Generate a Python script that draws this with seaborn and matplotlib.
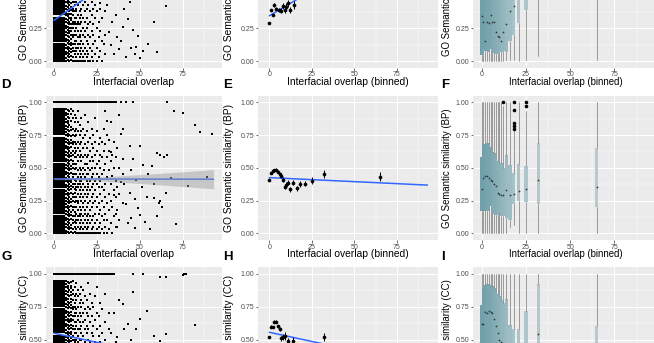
import matplotlib
matplotlib.use("Agg")
import matplotlib.pyplot as plt
import numpy as np
import pandas as pd
import seaborn as sns
from matplotlib.colors import to_rgb
from matplotlib.ticker import FixedLocator

# ---------------------------------------------------------------- data
ONTOLOGIES = ["MF", "BP", "CC"]
PANEL_LETTERS = [["A", "B", "C"], ["D", "E", "F"], ["G", "H", "I"]]

# similarity levels occupied in the most crowded low-overlap columns
LEVELS = [0.00, 0.01, 0.02, 0.035, 0.05, 0.06, 0.075, 0.09, 0.10, 0.115,
          0.13, 0.155, 0.17, 0.18, 0.195, 0.21, 0.22, 0.235, 0.25, 0.26,
          0.275, 0.29, 0.30, 0.315, 0.33, 0.355, 0.37, 0.38, 0.395, 0.41,
          0.42, 0.435, 0.45, 0.46, 0.475, 0.49, 0.50, 0.515, 0.53, 0.555,
          0.57, 0.58, 0.595, 0.61, 0.62, 0.635, 0.65, 0.66, 0.675, 0.69,
          0.70, 0.715, 0.73, 0.755, 0.77, 0.78, 0.795, 0.81, 0.82, 0.835,
          0.85, 0.86, 0.875, 0.89, 0.90, 0.915, 0.93, 0.95]

# ---- MF raw pairs
MF_DENSE_X = [0, 1, 2, 3, 4, 5, 6]
MF_COLS = {
    7: "0 2 5 7 10 12 15 17 20 22 25 27 30 32 35 37 40 42 45 47",
    8: "1 4 6 9 11 14 16 19 21 24 26 29 31 34 36 39 41 44 46",
    9: "0 3 5 8 10 13 15 18 21 23 25 28 30 33 36 38 40 43 45 48",
    10: "1 4 7 9 12 14 17 20 23 25 28 31 33 36 39 41 44 47",
    11: "0 3 8 10 13 18 20 25 28 30 35 38 40 45 48",
    12: "0 5 8 13 15 20 23 28 30 33 38 43 45",
    13: "0 3 8 10 15 20 25 28 33 38 40 45",
    14: "0 5 10 13 18 23 28 30 35 43 48",
    15: "0 3 8 13 18 20 28 33 38 45",
    16: "0 5 10 15 23 30 35 40 48",
    17: "0 3 8 13 20 25 33 43",
    18: "0 5 10 18 23 30 38 45",
    19: "3 8 15 25 33 40",
    20: "0 5 13 20 28 43",
    21: "0 10 18 30 38",
    22: "3 8 23 35 45",
    23: "0 13 20 28 40",
    24: "5 15 33 43",
    25: "0 10 25 38",
    26: "3 18 30",
    27: "8 23 40 44",
    28: "0 15 33",
    29: "13",
    30: "5 20 38",
}
MF_TOP_X = []
MF_SPARSE_X = [31, 32, 33, 34, 35, 36, 37, 38, 39, 40, 41, 42, 43, 44, 45, 46,
               47, 48, 49, 50, 52, 55, 58, 60, 65]
MF_SPARSE_Y = [0.43, 0.22, 0.12, 0.30, 0.05, 0.35, 0.18, 0.09, 0.15, 0.26,
               0.40, 0.03, 0.32, 0.45, 0.10, 0.24, 0.05, 0.11, 0.19, 0.02,
               0.08, 0.13, 0.30, 0.07, 0.42]

# ---- BP raw pairs
BP_DENSE_X = [0, 1, 2, 3, 4, 5, 6]
BP_COLS = {
    7: "0 2 5 7 10 12 15 17 20 22 25 27 30 32 35 37 40 42 45 47 50 52 55 57 60 62 65 67 70 72 75 77 80 82 85 87 90 92 95",
    8: "1 4 6 9 11 14 16 19 21 24 26 29 31 34 36 39 41 44 46 49 51 54 56 59 61 64 66 69 71 74 76 79 81 84 86 89 91 94",
    9: "0 3 5 8 10 13 15 18 20 23 25 28 30 33 35 38 40 43 45 48 50 53 55 58 60 63 65 68 70 75 78 83 88 93",
    10: "1 4 6 11 14 16 21 24 26 31 34 36 39 41 46 49 51 56 59 61 66 69 71 74 79 81 86 91 95",
    11: "0 3 8 10 13 18 20 25 28 30 35 38 43 45 50 53 55 60 63 68 70 75 80 88 93",
    12: "1 5 9 13 16 20 24 28 31 34 38 41 45 49 53 58 61 65 70 74 78 85 90",
    13: "0 3 8 10 15 20 25 28 33 35 40 45 50 53 58 63 68 75 80 88",
    14: "0 5 10 13 18 23 25 30 35 38 43 48 55 60 65 70 78 85 93",
    15: "0 3 8 13 15 20 28 33 38 40 45 50 58 63 68 75 83",
    16: "0 5 10 15 18 25 30 35 40 43 48 55 60 70 78 88",
    17: "0 3 8 13 20 23 28 33 38 45 50 58 65 73 80",
    18: "0 5 10 15 18 25 30 35 43 48 53 60 68 75 90",
    19: "0 3 8 13 20 28 33 40 45 53 58 65 78",
    20: "0 5 10 15 23 30 35 38 45 50 60 70 85",
    21: "0 8 13 18 25 33 40 48 55 63 73",
    22: "0 3 10 20 28 35 43 50 58 68 80",
    23: "0 5 13 23 30 38 45 55 65 75",
    24: "0 8 15 25 33 40 50 60 70 88",
    25: "0 3 10 20 28 38 45 53 63 78",
    26: "0 5 15 23 35 43 55 68",
    27: "0 8 18 30 40 50 60 73",
    28: "3 13 25 35 45 58 70",
    29: "0 10 20 33 48 63 80",
    30: "5 15 28 38 53 68 93",
    31: "0 10 23 43 58 75 86",
    32: "3 18 30 48 63 71",
    33: "8 25 38 55 62 85",
    34: "0 20 44 60",
    35: "13 29 33 50 70",
    36: "5 15 28 40 58",
    37: "5 18 35 65",
    38: "10 30 50 90",
    39: "39 76",
    40: "23 45 57 80",
}
BP_TOP_X = [0, 1, 2, 3, 4, 5, 6, 7, 8, 9, 10, 11, 12, 13, 14, 15, 16, 17, 18,
            19, 20, 21, 22, 23, 24, 25, 26, 27, 28, 29, 30, 31, 32, 33, 34, 35,
            36, 39, 42, 46, 66]
BP_SPARSE_X = [41, 42, 43, 44, 44, 45, 45, 46, 47, 47, 48, 49, 50, 50, 51, 52,
               53, 54, 55, 56, 57, 58, 58, 60, 60, 61, 62, 62, 63, 64, 65, 66,
               68, 70, 71, 75, 78, 82, 85, 89, 92]
BP_SPARSE_Y = [0.38, 0.22, 0.08, 0.67, 0.31, 0.48, 0.12, 0.57, 0.26, 0.04,
               0.41, 0.19, 0.67, 0.14, 0.35, 0.52, 0.09, 0.28, 0.45, 0.03,
               0.51, 0.27, 0.38, 0.13, 0.61, 0.23, 0.25, 0.60, 0.20, 0.58,
               0.31, 0.60, 0.42, 0.93, 0.07, 0.92, 0.36, 0.83, 0.77, 0.43,
               0.76]

# ---- CC raw pairs
CC_DENSE_X = [0, 1, 2, 3, 4, 5, 6]
CC_COLS = {
    7: "45 47 50 52 55 57 60 62 65 67 70 72 75 77 80 82 85 87 90 92 95",
    8: "46 49 51 54 56 59 61 64 66 69 71 74 76 79 81 84 86 89 91 94",
    9: "45 48 50 53 55 58 60 63 65 68 70 75 78 83 88 93",
    10: "46 49 51 54 56 59 61 64 66 69 71 74 76 79 81 84 86 89 91 94",
    11: "45 50 53 58 60 65 68 73 75 80 85 88 95",
    12: "48 50 55 58 63 68 70 75 78 83 90",
    13: "45 50 55 60 63 70 73 80 85 93",
    14: "48 53 58 65 68 75 83 88",
    15: "45 50 58 63 70 78 85",
    16: "50 55 60 68 75 80 90",
    17: "45 53 63 70 78 88",
    18: "48 58 65 73 83",
    19: "45 55 60 70 80",
    20: "50 58 68 75 93",
    21: "48 63 73 85",
    22: "45 55 68 78",
    23: "53 60 75",
    24: "48 65 83",
    25: "45 58 70 90",
    26: "53 68",
    27: "48 60 78",
    28: "55 73",
    30: "50 63 85",
    32: "58 70",
}
CC_TOP_X = [0, 1, 2, 3, 4, 5, 6, 7, 8, 9, 10, 11, 12, 13, 14, 15, 16, 17, 18,
            19, 20, 21, 22, 23, 24, 25, 26, 27, 28, 29, 30, 31, 32, 33, 34, 35,
            46, 52, 77]
CC_SPARSE_X = [33, 35, 36, 37, 38, 40, 41, 43, 45, 46, 48, 50, 54, 58, 62, 62,
               65, 65, 75, 76, 82]
CC_SPARSE_Y = [0.55, 0.70, 0.48, 0.52, 0.80, 0.77, 0.58, 0.62, 0.50, 0.86,
               0.58, 0.66, 0.72, 0.53, 0.49, 0.98, 0.54, 0.98, 0.99, 1.00,
               0.61]

# ---- least-squares fits on raw pairs (endpoints over the overlap range)
FIT_X = [0, 93]
MF_FIT1_Y = [0.310, 1.175]
BP_FIT1_Y = [0.415, 0.413]
CC_FIT1_Y = [0.548, 0.288]
# confidence band of the BP fit
BP_BAND_X = [0, 10, 25, 50, 75, 93]
BP_BAND_HALF = [0.006, 0.006, 0.014, 0.034, 0.056, 0.073]

# ---- binned means with standard errors
MF_BIN_X = [0, 1, 2, 3, 4, 5.5, 7, 8, 9, 10, 11, 12, 14.5]
MF_MEAN = [0.293, 0.390, 0.352, 0.430, 0.400, 0.390, 0.385, 0.420, 0.390,
           0.415, 0.440, 0.390, 0.430]
MF_SE = [0.006, 0.010, 0.010, 0.014, 0.014, 0.016, 0.018, 0.022, 0.022,
         0.024, 0.026, 0.026, 0.030]

BP_BIN_X = [0, 1, 2, 3, 4, 5, 6, 7, 8, 9, 10, 11, 12, 14, 16, 18, 21, 25, 32, 65]
BP_MEAN = [0.405, 0.458, 0.476, 0.482, 0.486, 0.470, 0.452, 0.435, 0.410,
           0.356, 0.372, 0.386, 0.336, 0.386, 0.342, 0.374, 0.380, 0.403,
           0.455, 0.433]
BP_SE = [0.006, 0.008, 0.008, 0.009, 0.010, 0.011, 0.012, 0.014, 0.016,
         0.016, 0.017, 0.018, 0.018, 0.020, 0.020, 0.022, 0.022, 0.028,
         0.030, 0.034]

CC_BIN_X = [0, 1, 2, 3, 4, 5, 6, 7, 8, 9, 11, 14, 32]
CC_MEAN = [0.520, 0.598, 0.595, 0.636, 0.636, 0.600, 0.580, 0.510, 0.520,
           0.530, 0.490, 0.490, 0.520]
CC_SE = [0.006, 0.010, 0.010, 0.012, 0.012, 0.014, 0.016, 0.018, 0.020,
         0.030, 0.022, 0.026, 0.030]

BIN_FIT_X = [0, 93]
MF_FIT2_Y = [0.345, 1.061]
BP_FIT2_Y = [0.425, 0.368]
CC_FIT2_Y = [0.555, 0.295]

# ---- per-bin box statistics
BOX_X = [0, 1, 2, 3, 4, 5, 6, 7, 8, 9, 10, 11, 12, 14, 16, 18, 21, 25, 32, 65]
BOX_SHADE = [0.0, 0.0, 0.05, 0.05, 0.1, 0.1, 0.15, 0.2, 0.25, 0.3, 0.35, 0.4,
             0.45, 0.55, 0.6, 0.7, 0.75, 0.8, 0.85, 0.9]

MF_Q1 = [0.045, 0.09, 0.08, 0.12, 0.07, 0.09, 0.09, 0.06, 0.05, 0.05, 0.07,
         0.07, 0.08, 0.07, 0.15, 0.20, 0.29, 0.39, 0.55, 0.50]
MF_MED = [0.34, 0.30, 0.15, 0.30, 0.29, 0.35, 0.30, 0.30, 0.22, 0.19, 0.185,
          0.15, 0.22, 0.28, 0.38, 0.42, 0.52, 0.62, 0.70, 0.65]
MF_Q3 = [0.70, 0.75, 0.75, 0.75, 0.75, 0.72, 0.72, 0.70, 0.68, 0.65, 0.65,
         0.62, 0.62, 0.62, 0.65, 0.70, 0.75, 0.85, 0.90, 0.80]
MF_WLO = [0, 0, 0, 0, 0, 0, 0, 0, 0, 0, 0, 0, 0, 0.005, 0.005, 0.01, 0.0,
          0.005, 0.04, 0.005]
MF_WHI = [1.0] * 20
MF_OUT = {}

BP_Q1 = [0.17, 0.17, 0.18, 0.17, 0.17, 0.21, 0.21, 0.15, 0.14, 0.14, 0.17,
         0.13, 0.13, 0.12, 0.10, 0.22, 0.25, 0.24, 0.22, 0.20]
BP_MED = [0.34, 0.42, 0.44, 0.44, 0.42, 0.41, 0.40, 0.38, 0.36, 0.31, 0.30,
          0.29, 0.29, 0.33, 0.29, 0.30, 0.32, 0.34, 0.41, 0.355]
BP_Q3 = [0.58, 0.68, 0.68, 0.69, 0.69, 0.66, 0.62, 0.61, 0.58, 0.55, 0.54,
         0.54, 0.50, 0.60, 0.52, 0.46, 0.53, 0.51, 0.69, 0.65]
BP_WLO = [0, 0, 0, 0, 0, 0, 0, 0, 0, 0, 0, 0, 0, 0, 0.05, 0.06, 0, 0, 0, 0]
BP_WHI = [1, 1, 1, 1, 1, 1, 1, 1, 1, 1, 1, 1, 0.97, 1, 1, 0.78, 1, 0.93, 1, 1]
BP_OUT = {12: [1.0], 18: [1.0, 0.94, 0.84, 0.82, 0.80], 25: [1.0, 0.97]}

CC_Q1 = [0.25, 0.30, 0.33, 0.35, 0.35, 0.33, 0.30, 0.28, 0.25, 0.22, 0.20,
         0.18, 0.17, 0.15, 0.12, 0.12, 0.10, 0.15, 0.20, 0.15]
CC_MED = [0.62, 0.62, 0.71, 0.70, 0.72, 0.71, 0.70, 0.66, 0.60, 0.55, 0.50,
          0.48, 0.45, 0.40, 0.35, 0.30, 0.30, 0.35, 0.545, 0.30]
CC_Q3 = [0.76, 0.89, 0.915, 0.92, 0.92, 0.915, 0.91, 0.89, 0.87, 0.85, 0.83,
         0.80, 0.78, 0.81, 0.61, 0.58, 0.58, 0.72, 0.92, 0.60]
CC_WLO = [0.0] * 20
CC_WHI = [1.0] * 20
CC_OUT = {}

# ---------------------------------------------------------------- helpers
def raw_pairs(dense_x, cols, top_x, sparse_x, sparse_y):
    xs, ys = [], []
    for x in dense_x:
        xs += [x] * len(LEVELS)
        ys += LEVELS
    for x, s in cols.items():
        vals = [int(v) / 100 for v in s.split()]
        xs += [x] * len(vals)
        ys += vals
    xs += list(top_x)
    ys += [1.0] * len(top_x)
    xs += list(sparse_x)
    ys += list(sparse_y)
    return pd.DataFrame({"overlap": xs, "similarity": ys})


RAW = {
    "MF": raw_pairs(MF_DENSE_X, MF_COLS, MF_TOP_X, MF_SPARSE_X, MF_SPARSE_Y),
    "BP": raw_pairs(BP_DENSE_X, BP_COLS, BP_TOP_X, BP_SPARSE_X, BP_SPARSE_Y),
    "CC": raw_pairs(CC_DENSE_X, CC_COLS, CC_TOP_X, CC_SPARSE_X, CC_SPARSE_Y),
}
FIT1 = {"MF": MF_FIT1_Y, "BP": BP_FIT1_Y, "CC": CC_FIT1_Y}
FIT2 = {"MF": MF_FIT2_Y, "BP": BP_FIT2_Y, "CC": CC_FIT2_Y}
BINNED = {
    "MF": pd.DataFrame({"overlap": MF_BIN_X, "mean": MF_MEAN, "se": MF_SE}),
    "BP": pd.DataFrame({"overlap": BP_BIN_X, "mean": BP_MEAN, "se": BP_SE}),
    "CC": pd.DataFrame({"overlap": CC_BIN_X, "mean": CC_MEAN, "se": CC_SE}),
}
BOXES = {
    "MF": (MF_Q1, MF_MED, MF_Q3, MF_WLO, MF_WHI, MF_OUT),
    "BP": (BP_Q1, BP_MED, BP_Q3, BP_WLO, BP_WHI, BP_OUT),
    "CC": (CC_Q1, CC_MED, CC_Q3, CC_WLO, CC_WHI, CC_OUT),
}

# ---------------------------------------------------------------- figure
sns.set_theme(style="darkgrid")
plt.rcParams["font.family"] = ["Liberation Sans", "DejaVu Sans"]

FIG_W, FIG_H = 654, 343
fig = plt.figure(figsize=(FIG_W / 100, FIG_H / 100), dpi=100)

PPU_Y = 131.0
YLIM = (-0.05, 1.05)
ROW_Y0 = [61.0, 233.3, 405.0]           # pixel row of similarity = 0
COL_X0 = [54.0, 269.3, 481.7]           # pixel column of overlap = 0
COL_PPU = [1.716, 1.70, 1.77]
COL_XLIM = [(-4.65, 97.65), (-6.6, 99.2), (-4.9, 100.2)]
LABEL_X = [24.0, 229.0, 447.5]
LETTER_X = [1.0, 223.0, 441.0]
AX_FS = [7.4, 7.4, 6.9]

DARK = np.array(to_rgb("#72A0AA"))
LIGHT = np.array(to_rgb("#BCD0D3"))
BLUE = "#3366FF"


def rect(col, row):
    x0, ppu, xl = COL_X0[col], COL_PPU[col], COL_XLIM[col]
    left = x0 + xl[0] * ppu
    width = (xl[1] - xl[0]) * ppu
    top = ROW_Y0[row] - YLIM[1] * PPU_Y
    height = (YLIM[1] - YLIM[0]) * PPU_Y
    return [left / FIG_W, 1 - (top + height) / FIG_H, width / FIG_W, height / FIG_H]


def style(ax, xlim):
    ax.set_facecolor("#EBEBEB")
    ax.set_xlim(*xlim)
    ax.set_ylim(*YLIM)
    ax.set_xticks([0, 25, 50, 75])
    ax.set_xticklabels(["0", "25", "50", "75"])
    ax.set_yticks([0, 0.25, 0.5, 0.75, 1.0])
    ax.set_yticklabels(["0.00", "0.25", "0.50", "0.75", "1.00"])
    ax.xaxis.set_minor_locator(FixedLocator([12.5, 37.5, 62.5, 87.5]))
    ax.yaxis.set_minor_locator(FixedLocator([0.125, 0.375, 0.625, 0.875]))
    ax.grid(which="major", color="white", linewidth=0.75)
    ax.grid(which="minor", color="white", linewidth=0.35)
    ax.tick_params(which="major", length=1.8, width=0.5, color="#333333",
                   pad=1.0, labelsize=5, labelcolor="#4D4D4D",
                   bottom=True, left=True)
    ax.tick_params(which="minor", length=0, bottom=False, left=False)
    for sp in ax.spines.values():
        sp.set_visible(False)
    ax.set_axisbelow(True)
    ax.set_xlabel("")
    ax.set_ylabel("")


XLABELS = ["Interfacial overlap", "Interfacial overlap (binned)",
           "Interfacial overlap (binned)"]

for row, ont in enumerate(ONTOLOGIES):
    # raw pairs with linear fit
    ax = fig.add_axes(rect(0, row))
    sns.scatterplot(data=RAW[ont], x="overlap", y="similarity", ax=ax,
                    color="black", s=1.35, marker="s", linewidth=0,
                    legend=False)
    if ont == "BP":
        centre = np.interp(BP_BAND_X, FIT_X, BP_FIT1_Y)
        ax.fill_between(BP_BAND_X, centre - np.array(BP_BAND_HALF),
                        centre + np.array(BP_BAND_HALF), color="#999999",
                        alpha=0.45, linewidth=0, zorder=3)
    sns.lineplot(x=FIT_X, y=FIT1[ont], ax=ax, color=BLUE, linewidth=1.1)
    style(ax, COL_XLIM[0])

    # binned means
    ax = fig.add_axes(rect(1, row))
    b = BINNED[ont]
    sns.lineplot(x=BIN_FIT_X, y=FIT2[ont], ax=ax, color=BLUE, linewidth=1.1)
    ax.errorbar(b["overlap"], b["mean"], yerr=b["se"], fmt="none",
                ecolor="black", elinewidth=0.7, capsize=0, zorder=4)
    sns.scatterplot(data=b, x="overlap", y="mean", ax=ax, color="black",
                    s=7, linewidth=0, legend=False, zorder=5)
    style(ax, COL_XLIM[1])

    # per-bin distributions
    ax = fig.add_axes(rect(2, row))
    q1, med, q3, wlo, whi, out = BOXES[ont]
    stats = []
    for i, x in enumerate(BOX_X):
        stats.append(dict(med=med[i], q1=q1[i], q3=q3[i], whislo=wlo[i],
                          whishi=whi[i], fliers=out.get(x, [])))
    bp = ax.bxp(stats, positions=BOX_X, widths=1.8, patch_artist=True,
                showcaps=False, manage_ticks=False,
                boxprops=dict(edgecolor="none", linewidth=0),
                whiskerprops=dict(color="#8C8C8C", linewidth=0.6),
                medianprops=dict(linewidth=0),
                flierprops=dict(marker="o", markersize=2.6,
                                markerfacecolor="black",
                                markeredgecolor="none"))
    for patch, sh in zip(bp["boxes"], BOX_SHADE):
        patch.set_facecolor(DARK * (1 - sh) + LIGHT * sh)
    sns.scatterplot(x=BOX_X, y=med, ax=ax, color="#2E3B3E", s=1.6,
                    linewidth=0, legend=False, zorder=4)
    style(ax, COL_XLIM[2])

    # labels (only those that fall inside the canvas)
    for col in range(3):
        rc = rect(col, row)
        cy = 1 - (ROW_Y0[row] - 0.5 * PPU_Y) / FIG_H
        fig.text(LABEL_X[col] / FIG_W, cy, f"GO Semantic similarity ({ont})",
                 rotation=90, ha="center", va="center", fontsize=AX_FS[col],
                 color="black")
        xl_y = ROW_Y0[row] + 21
        if xl_y < FIG_H:
            fig.text(rc[0] + rc[2] / 2, 1 - xl_y / FIG_H, XLABELS[col],
                     ha="center", va="center", fontsize=AX_FS[col],
                     color="black")
        lt_y = ROW_Y0[row] - 148.5
        if lt_y > 0:
            fig.text(LETTER_X[col] / FIG_W, 1 - lt_y / FIG_H,
                     PANEL_LETTERS[row][col], ha="left", va="center",
                     fontsize=9.5, fontweight="bold", color="black")

fig.savefig("out.png", dpi=100)
